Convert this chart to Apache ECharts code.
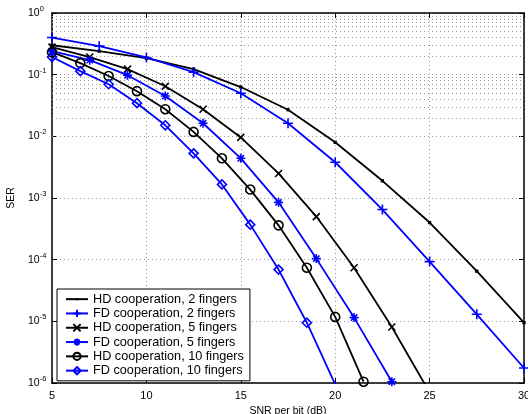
<!DOCTYPE html>
<html>
<head>
<meta charset="utf-8">
<script src="https://cdn.jsdelivr.net/npm/echarts@6/dist/echarts.min.js"></script>
<style>
  html, body { margin: 0; padding: 0; background: #fff; }
  #chart { width: 528px; height: 414px; }
</style>
</head>
<body>
<div id="chart"></div>
<script>
// SNR points (dB) for each marker spacing
var snr2f = [5, 7.5, 10, 12.5, 15, 17.5, 20, 22.5, 25, 27.5, 30];
var snr5f = [5, 7, 9, 11, 13, 15, 17, 19, 21, 23, 25];
var snr10f = [5, 6.5, 8, 9.5, 11, 12.5, 14, 15.5, 17, 18.5, 20, 21.5];

// SER values
var hd2 = [0.30, 0.24, 0.185, 0.123, 0.063, 0.027, 0.0080, 0.0019, 4.0e-4, 6.5e-5, 9.5e-6];
var fd2 = [0.40, 0.29, 0.19, 0.11, 0.050, 0.0163, 0.0038, 6.5e-4, 9.3e-5, 1.3e-5, 1.75e-6];
var hd5 = [0.28, 0.193, 0.123, 0.065, 0.0275, 0.0096, 0.0025, 5.0e-4, 7.4e-5, 8.1e-6, 7e-7];
var fd5 = [0.24, 0.172, 0.098, 0.045, 0.0163, 0.0044, 8.5e-4, 1.04e-4, 1.15e-5, 1.05e-6];
var hd10 = [0.232, 0.154, 0.095, 0.054, 0.0275, 0.0118, 0.0044, 0.00137, 3.6e-4, 7.4e-5, 1.18e-5, 1.05e-6];
var fd10 = [0.193, 0.114, 0.070, 0.0345, 0.0151, 0.0053, 0.00166, 3.7e-4, 6.9e-5, 9.5e-6, 9.5e-7];

var names = [
  "HD cooperation, 2 fingers",
  "FD cooperation, 2 fingers",
  "HD cooperation, 5 fingers",
  "FD cooperation, 5 fingers",
  "HD cooperation, 10 fingers",
  "FD cooperation, 10 fingers"
];

// minor grid (2..9 x 10^k)
var minorDecades = [-6, -5, -4, -3, -2, -1];
var minorMults = [2, 3, 4, 5, 6, 7, 8, 9];

var FONT = "Liberation Sans";
var BLUE = "#0000ff";
var BLACK = "#000000";
var GRID = "#9a9a9a";

function pairs(xs, ys) {
  return ys.map(function (y, i) { return [xs[i], y]; });
}

var minorLines = [];
minorDecades.forEach(function (d) {
  minorMults.forEach(function (m) {
    minorLines.push({ yAxis: m * Math.pow(10, d) });
  });
});

function mkSeries(name, xs, ys, color, symbol, size) {
  return {
    name: name,
    type: "line",
    data: pairs(xs, ys),
    symbol: symbol,
    symbolSize: size,
    showAllSymbol: true,
    clip: true,
    z: 5,
    lineStyle: { color: color, width: 1.8 },
    itemStyle: { color: "rgba(0,0,0,0)", borderColor: color, borderWidth: 1.6 },
    emphasis: { disabled: true }
  };
}

var series = [
  {
    name: names[0],
    type: "line",
    data: pairs(snr2f, hd2),
    // small dot marker, padded so it stays small in the legend too
    symbol: "path://M0,0L0,0M10,10L10,10M3.5,3.5L6.5,3.5L6.5,6.5L3.5,6.5Z",
    symbolSize: 11,
    z: 5,
    lineStyle: { color: BLACK, width: 1.8 },
    itemStyle: { color: BLACK, borderWidth: 0 },
    emphasis: { disabled: true },
    markLine: {
      silent: true,
      symbol: "none",
      label: { show: false },
      lineStyle: { color: GRID, type: [1, 3], width: 1 },
      data: minorLines,
      z: 1
    }
  },
  mkSeries(names[1], snr2f, fd2, BLUE, "path://M5,0L5,10M0,5L10,5", 10),
  mkSeries(names[2], snr5f, hd5, BLACK, "path://M0,0L10,10M0,10L10,0", 7),
  mkSeries(names[3], snr5f, fd5, BLUE, "path://M5,0L5,10M0,5L10,5M1.5,1.5L8.5,8.5M1.5,8.5L8.5,1.5", 9),
  mkSeries(names[4], snr10f, hd10, BLACK, "circle", 9),
  mkSeries(names[5], snr10f, fd10, BLUE, "diamond", 9)
];

var chart = echarts.init(document.getElementById("chart"));
var option = {
  animation: false,
  backgroundColor: "#fff",
  textStyle: { fontFamily: FONT },
  grid: { left: 52, right: 4, top: 13, bottom: 31, containLabel: false, outerBoundsMode: "none" },
  legend: {
    orient: "vertical",
    left: 57,
    top: 289,
    data: names,
    backgroundColor: "#fff",
    borderColor: BLACK,
    borderWidth: 1,
    padding: [3, 6, 3, 8],
    itemGap: 0,
    itemWidth: 22,
    itemHeight: 9,
    z: 10,
    textStyle: { fontFamily: FONT, fontSize: 12.7, lineHeight: 14.3, color: BLACK }
  },
  xAxis: [
    {
      type: "value",
      min: 5,
      max: 30,
      interval: 5,
      name: "SNR per bit (dB)",
      nameLocation: "middle",
      nameGap: 20,
      nameTextStyle: { fontFamily: FONT, fontSize: 10.5, color: BLACK },
      axisLine: { lineStyle: { color: BLACK, width: 1.5 } },
      axisTick: { inside: true, length: 5, lineStyle: { color: BLACK } },
      axisLabel: { fontFamily: FONT, fontSize: 11, color: BLACK, margin: 7 },
      splitLine: { show: true, lineStyle: { color: GRID, type: [1, 3], width: 1 } }
    },
    {
      type: "value",
      position: "top",
      min: 5,
      max: 30,
      interval: 5,
      axisLine: { lineStyle: { color: BLACK, width: 1.5 } },
      axisTick: { inside: true, length: 5, lineStyle: { color: BLACK } },
      axisLabel: { show: false },
      splitLine: { show: false }
    }
  ],
  yAxis: [
    {
      type: "log",
      logBase: 10,
      min: 1e-6,
      max: 1,
      splitNumber: 6,
      name: "SER",
      nameLocation: "middle",
      nameGap: 35,
      nameTextStyle: { fontFamily: FONT, fontSize: 10.5, color: BLACK },
      axisLine: { show: true, lineStyle: { color: BLACK, width: 1.5 } },
      axisTick: { inside: true, length: 5, lineStyle: { color: BLACK } },
      axisLabel: {
        align: "left",
        margin: 24,
        color: BLACK,
        formatter: function (v) {
          var e = Math.round(Math.log10(v));
          return "{b|10}{s|" + e + "}";
        },
        rich: {
          b: { fontFamily: FONT, fontSize: 10.5, color: BLACK },
          s: { fontFamily: FONT, fontSize: 7.5, color: BLACK, padding: [0, 0, 8, 0] }
        }
      },
      splitLine: { show: true, lineStyle: { color: GRID, type: [1, 3], width: 1 } }
    },
    {
      type: "log",
      logBase: 10,
      min: 1e-6,
      max: 1,
      splitNumber: 6,
      position: "right",
      axisLine: { show: true, lineStyle: { color: BLACK, width: 1.5 } },
      axisTick: { inside: true, length: 5, lineStyle: { color: BLACK } },
      axisLabel: { show: false },
      splitLine: { show: false }
    }
  ],
  series: series
};
chart.setOption(option);
</script>
</body>
</html>
